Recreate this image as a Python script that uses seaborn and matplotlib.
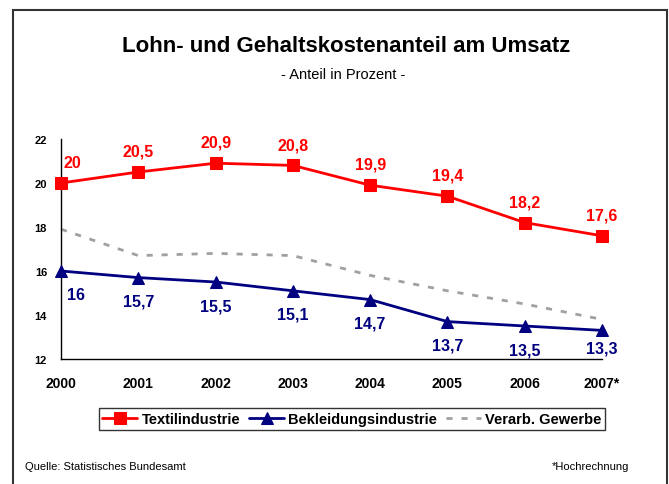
import pandas as pd
import matplotlib.pyplot as plt
import seaborn as sns
from matplotlib.patches import Rectangle

# Werte aus der Grafik
jahre = ['2000', '2001', '2002', '2003', '2004', '2005', '2006', '2007*']
textil = [20, 20.5, 20.9, 20.8, 19.9, 19.4, 18.2, 17.6]
bekleidung = [16, 15.7, 15.5, 15.1, 14.7, 13.7, 13.5, 13.3]
gewerbe = [17.9, 16.7, 16.8, 16.7, 15.8, 15.1, 14.5, 13.8]

df = pd.DataFrame({'pos': range(len(jahre)), 'Textilindustrie': textil,
                   'Bekleidungsindustrie': bekleidung, 'Verarb. Gewerbe': gewerbe})

sns.set_style('white')
plt.rcParams['font.family'] = ['Liberation Sans', 'DejaVu Sans']
plt.rcParams['text.color'] = 'black'
plt.rcParams['xtick.color'] = 'black'
plt.rcParams['ytick.color'] = 'black'

fig = plt.figure(figsize=(6.69, 4.85), dpi=100)
ax = fig.add_axes([61 / 669, 1 - 360 / 485, (602 - 61) / 669, 220 / 485])

red = '#FF0000'
navy = '#000080'
grey = '#A0A0A0'

sns.lineplot(data=df, x='pos', y='Verarb. Gewerbe', ax=ax, color=grey, lw=2,
             linestyle=(0, (2.2, 3.2)), label='Verarb. Gewerbe', zorder=2, clip_on=False)
sns.lineplot(data=df, x='pos', y='Textilindustrie', ax=ax, color=red, lw=2,
             marker='s', markersize=8, markeredgecolor=red, label='Textilindustrie',
             zorder=3, clip_on=False)
sns.lineplot(data=df, x='pos', y='Bekleidungsindustrie', ax=ax, color=navy, lw=2,
             marker='^', markersize=8, markeredgecolor=navy, label='Bekleidungsindustrie',
             zorder=3, clip_on=False)

# Datenbeschriftungen
for i, v in enumerate(textil):
    txt = f'{v:g}'.replace('.', ',')
    if i == 0:
        ax.annotate(txt, (i, v), xytext=(2, 15), textcoords='offset points',
                    ha='left', va='center', color=red, fontsize=11.5, fontweight='bold')
    else:
        ax.annotate(txt, (i, v), xytext=(0, 15), textcoords='offset points',
                    ha='center', va='center', color=red, fontsize=11.5, fontweight='bold')
for i, v in enumerate(bekleidung):
    txt = f'{v:g}'.replace('.', ',')
    if i == 0:
        ax.annotate(txt, (i, v), xytext=(4, -17), textcoords='offset points',
                    ha='left', va='center', color=navy, fontsize=11.5, fontweight='bold')
    else:
        dy = -13 if i == 7 else -17
        ax.annotate(txt, (i, v), xytext=(0, dy), textcoords='offset points',
                    ha='center', va='center', color=navy, fontsize=11.5, fontweight='bold')

ax.set_xlim(0, len(jahre) - 1)
ax.set_ylim(12, 22)
ax.set_xticks(range(len(jahre)))
ax.set_xticklabels(jahre, fontsize=10, fontweight='bold')
ax.set_yticks(range(12, 23, 2))
ax.set_yticklabels([str(t) for t in range(12, 23, 2)], fontsize=8, fontweight='bold')
ax.set_xlabel('')
ax.set_ylabel('')
for s in ['top', 'right']:
    ax.spines[s].set_visible(False)
for s in ['left', 'bottom']:
    ax.spines[s].set_color('black')
    ax.spines[s].set_linewidth(1)
ax.tick_params(axis='x', direction='inout', length=8, width=1, pad=8)
ax.tick_params(axis='y', direction='out', length=4, width=1, pad=6)

handles, labels = ax.get_legend_handles_labels()
order = [labels.index(n) for n in ['Textilindustrie', 'Bekleidungsindustrie', 'Verarb. Gewerbe']]
leg = fig.legend([handles[k] for k in order], [labels[k] for k in order],
                 loc='center', bbox_to_anchor=(352 / 669, 1 - 420 / 485), ncol=3,
                 frameon=True, fancybox=False, edgecolor='black', handlelength=2.4,
                 handletextpad=0.3, columnspacing=0.6, borderpad=0.25, borderaxespad=0,
                 prop={'size': 10.5, 'weight': 'bold'})
leg.get_frame().set_linewidth(1)
ax.get_legend().remove()

fig.text(346 / 669, 1 - 47 / 485, 'Lohn- und Gehaltskostenanteil am Umsatz',
         ha='center', va='center', fontsize=16, fontweight='bold')
fig.text(343 / 669, 1 - 75 / 485, '- Anteil in Prozent -', ha='center', va='center', fontsize=10.5)
fig.text(25 / 669, 1 - 467 / 485, 'Quelle: Statistisches Bundesamt', ha='left', va='center', fontsize=8)
fig.text(552 / 669, 1 - 467 / 485, '*Hochrechnung', ha='left', va='center', fontsize=8)

# Rahmen um das Diagramm
fig.patches.append(Rectangle((13 / 669, -0.1), (667 - 13) / 669, 1 - 11 / 485 + 0.1,
                             transform=fig.transFigure, fill=False, edgecolor='#333333', lw=1.5))

fig.savefig('out.png', dpi=100)
